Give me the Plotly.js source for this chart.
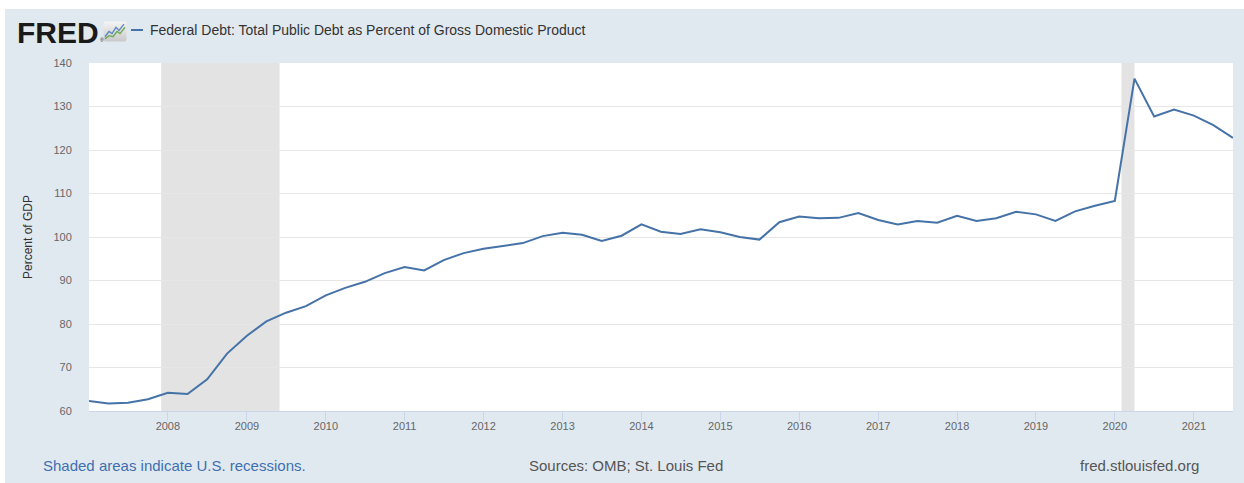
<!DOCTYPE html>
<html>
<head>
<meta charset="utf-8">
<script src="https://cdn.plot.ly/plotly-3.0.1.min.js"></script>
<style>
  html, body { margin: 0; padding: 0; background: #ffffff; width: 1244px; height: 483px; overflow: hidden; }
  #chart { position: absolute; left: 5px; top: 9px; width: 1239px; height: 474px; }
</style>
</head>
<body>
<div id="chart"></div>
<script>
// ---- Data ----
const quarters = [
  '2007-01-01','2007-04-01','2007-07-01','2007-10-01',
  '2008-01-01','2008-04-01','2008-07-01','2008-10-01',
  '2009-01-01','2009-04-01','2009-07-01','2009-10-01',
  '2010-01-01','2010-04-01','2010-07-01','2010-10-01',
  '2011-01-01','2011-04-01','2011-07-01','2011-10-01',
  '2012-01-01','2012-04-01','2012-07-01','2012-10-01',
  '2013-01-01','2013-04-01','2013-07-01','2013-10-01',
  '2014-01-01','2014-04-01','2014-07-01','2014-10-01',
  '2015-01-01','2015-04-01','2015-07-01','2015-10-01',
  '2016-01-01','2016-04-01','2016-07-01','2016-10-01',
  '2017-01-01','2017-04-01','2017-07-01','2017-10-01',
  '2018-01-01','2018-04-01','2018-07-01','2018-10-01',
  '2019-01-01','2019-04-01','2019-07-01','2019-10-01',
  '2020-01-01','2020-04-01','2020-07-01','2020-10-01',
  '2021-01-01','2021-04-01','2021-07-01'
];
const debtPctGDP = [
  62.3, 61.7, 61.9, 62.7,
  64.2, 63.9, 67.3, 73.2,
  77.3, 80.6, 82.6, 84.1,
  86.6, 88.3, 89.7, 91.7,
  93.1, 92.3, 94.7, 96.3,
  97.3, 98.0, 98.6, 100.2,
  101.0, 100.5, 99.1, 100.3,
  102.9, 101.2, 100.7, 101.8,
  101.1, 100.0, 99.4, 103.4,
  104.7, 104.3, 104.4, 105.5,
  103.9, 102.9, 103.7, 103.3,
  104.9, 103.7, 104.3, 105.8,
  105.2, 103.7, 105.9, 107.2,
  108.3, 136.4, 127.7, 129.3,
  127.9, 125.7, 122.8
];
const recessionStarts = ['2007-12-01', '2020-02-01'];
const recessionEnds   = ['2009-06-01', '2020-04-01'];
const yearTicks = ['2008','2009','2010','2011','2012','2013','2014','2015','2016','2017','2018','2019','2020','2021'];
const yTicks = [60, 70, 80, 90, 100, 110, 120, 130, 140];

const seriesTitle = 'Federal Debt: Total Public Debt as Percent of Gross Domestic Product';
const yTitle = 'Percent of GDP';
const footLeft = 'Shaded areas indicate U.S. recessions.';
const footMid = 'Sources: OMB; St. Louis Fed';
const footRight = 'fred.stlouisfed.org';

// ---- Page geometry helpers (plot area in page px: x 89..1233, y 63..411) ----
const PX0 = 89, PX1 = 1233, PY0 = 63, PY1 = 411;
const px = x => (x - PX0) / (PX1 - PX0);
const py = y => (PY1 - y) / (PY1 - PY0);

const FONT = '"Liberation Sans", Arial, sans-serif';
const LINE = '#4572a7';

const shapes = recessionStarts.map((s, i) => ({
  type: 'rect', xref: 'x', yref: 'paper', x0: s, x1: recessionEnds[i], y0: 0, y1: 1,
  fillcolor: '#e3e3e3', line: { width: 0 }, layer: 'below'
}));
// legend dash
shapes.push({ type: 'line', xref: 'paper', yref: 'paper', x0: px(131), x1: px(143), y0: py(30), y1: py(30),
  line: { color: LINE, width: 2 } });

const iconSvg = '<svg xmlns="http://www.w3.org/2000/svg" width="24" height="20" viewBox="0 0 24 20">' +
  '<defs><linearGradient id="g" x1="0" y1="0" x2="0" y2="1"><stop offset="0" stop-color="#f4f4f4"/><stop offset="1" stop-color="#c9c9c9"/></linearGradient></defs>' +
  '<rect x="0.5" y="0.5" width="23" height="19" rx="2" fill="url(#g)"/>' +
  '<polyline points="2,15 6,10 9,12 13,6 16,9 21,3" fill="none" stroke="#5b86c2" stroke-width="1.3"/>' +
  '<polyline points="2,17 6,14 10,15 14,10 17,12 22,6" fill="none" stroke="#6aa84f" stroke-width="1.3"/>' +
  '</svg>';

const annotations = [
  { text: '<b>FRED</b>', xref: 'paper', yref: 'paper', x: px(15), y: py(32), xanchor: 'left', yanchor: 'middle',
    showarrow: false, font: { family: FONT, size: 30, color: '#1a1a1a' } },
  { text: '®', xref: 'paper', yref: 'paper', x: px(98), y: py(40), xanchor: 'left', yanchor: 'middle',
    showarrow: false, font: { family: FONT, size: 5, color: '#1a1a1a' } },
  { text: seriesTitle, xref: 'paper', yref: 'paper', x: px(148), y: py(30), xanchor: 'left', yanchor: 'middle',
    showarrow: false, font: { family: FONT, size: 14, color: '#333333' } },
  { text: yTitle, xref: 'paper', yref: 'paper', x: px(28), y: py(237), xanchor: 'center', yanchor: 'middle', textangle: -90,
    showarrow: false, font: { family: FONT, size: 12, color: '#333333' } },
  { text: footLeft, xref: 'paper', yref: 'paper', x: px(41), y: py(465), xanchor: 'left', yanchor: 'middle',
    showarrow: false, font: { family: FONT, size: 15, color: '#3e6fb0' } },
  { text: footMid, xref: 'paper', yref: 'paper', x: px(626), y: py(465), xanchor: 'center', yanchor: 'middle',
    showarrow: false, font: { family: FONT, size: 15, color: '#555555' } },
  { text: footRight, xref: 'paper', yref: 'paper', x: px(1201), y: py(465), xanchor: 'right', yanchor: 'middle',
    showarrow: false, font: { family: FONT, size: 15, color: '#555555' } }
];

const images = [{
  source: 'data:image/svg+xml;charset=utf-8,' + encodeURIComponent(iconSvg),
  xref: 'paper', yref: 'paper', x: px(103), y: py(21), sizex: px(127) - px(103), sizey: py(21) - py(42),
  xanchor: 'left', yanchor: 'top', sizing: 'stretch', layer: 'above'
}];

const trace = {
  type: 'scatter', mode: 'lines', x: quarters, y: debtPctGDP,
  line: { color: LINE, width: 2 }, hoverinfo: 'skip', showlegend: false
};

const layout = {
  width: 1239, height: 474,
  margin: { l: 84, r: 11, t: 54, b: 72, pad: 0 },
  paper_bgcolor: '#e1e9f0', plot_bgcolor: '#ffffff',
  font: { family: FONT, size: 11, color: '#666666' },
  showlegend: false,
  xaxis: {
    type: 'date', range: ['2007-01-01', '2021-07-01'],
    tickmode: 'array', tickvals: yearTicks.map(y => y + '-01-01'), ticktext: yearTicks,
    ticks: 'outside', ticklen: 9, tickcolor: '#ccd6eb', tickwidth: 1,
    ticklabelstandoff: -4,
    showline: true, linecolor: '#ccd6eb', linewidth: 1,
    showgrid: false, zeroline: false,
    tickfont: { family: FONT, size: 11, color: '#666666' }
  },
  yaxis: {
    range: [60, 140], tickmode: 'array', tickvals: yTicks,
    ticks: 'outside', ticklen: 14, tickcolor: 'rgba(0,0,0,0)',
    showgrid: true, gridcolor: '#e6e6e6', gridwidth: 1,
    showline: false, zeroline: false,
    tickfont: { family: FONT, size: 11, color: '#666666' }
  },
  shapes: shapes, annotations: annotations, images: images
};

Plotly.newPlot('chart', [trace], layout, { displayModeBar: false, staticPlot: true });
</script>
</body>
</html>
